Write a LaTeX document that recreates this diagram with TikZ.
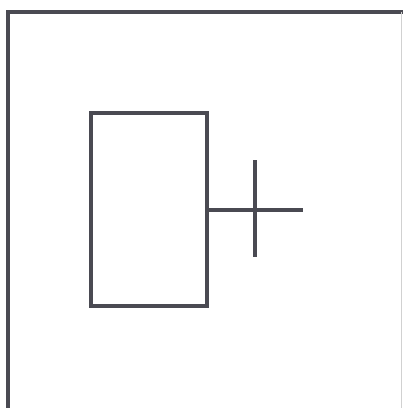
\documentclass[tikz,border=0pt]{standalone}
\usepackage{tikz}
\usetikzlibrary{positioning}

\definecolor{inkgray}{RGB}{74,74,82}

\begin{document}
\begin{tikzpicture}[
    x=0.025cm, y=-0.025cm,
    frame/.style={draw=inkgray, line width=0.1cm},
    edgefaint/.style={draw=black!18, line width=0.04cm},
    box/.style={draw=inkgray, line width=0.1cm, minimum width=2.9cm, minimum height=4.825cm, inner sep=0pt},
    wire/.style={draw=inkgray, line width=0.1cm},
  ]
    \useasboundingbox (0,0) rectangle (403,408);

    % outer border, open at the bottom
    \draw[frame] (8,408) -- (8,12) -- (403,12);
    \draw[edgefaint] (401.5,12) -- (401.5,408);

    \node[box] (blk) at (149,209.5) {};

    \coordinate (tip) at (303,209.5);
    \coordinate (bartop) at (255,160);
    \coordinate (barbot) at (255,257);

    \draw[wire] (blk.east) -- (tip);
    \draw[wire] (bartop) -- (barbot);
\end{tikzpicture}
\end{document}
